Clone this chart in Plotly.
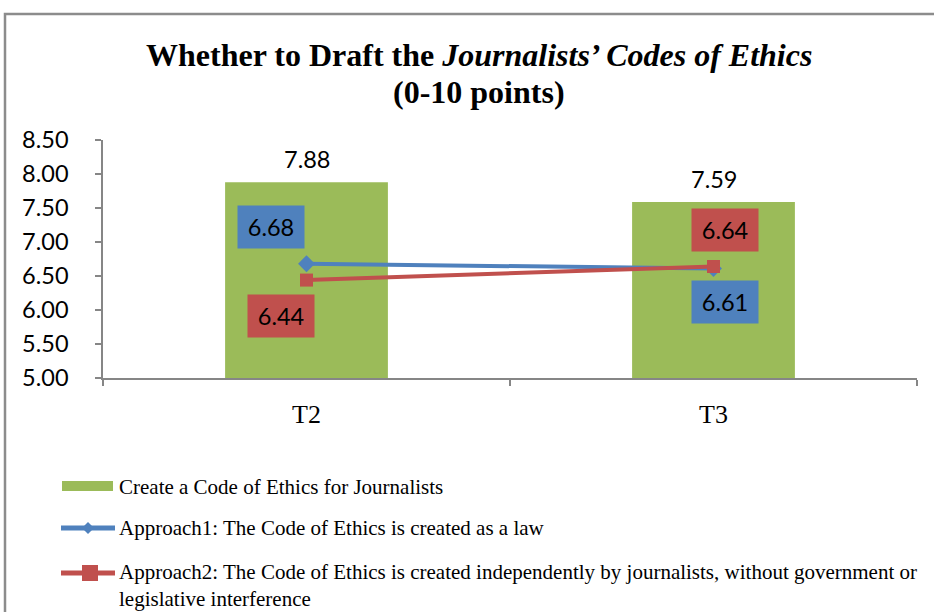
import plotly.graph_objects as go

# ---- data ----
categories = ["T2", "T3"]
create_code = [7.88, 7.59]
approach1 = [6.68, 6.61]
approach2 = [6.44, 6.64]
y_ticks = [5.00, 5.50, 6.00, 6.50, 7.00, 7.50, 8.00, 8.50]

series_names = [
    "Create a Code of Ethics for Journalists",
    "Approach1: The Code of Ethics is created as a law",
    "Approach2: The Code of Ethics is created independently by journalists, without government or<br>legislative interference",
]
title_lines = [
    "<b>Whether to Draft the <i>Journalists’ Codes of Ethics</i></b>",
    "<b>(0-10 points)</b>",
]

GREEN = "#9BBB59"
BLUE = "#4F81BD"
RED = "#C0504D"
AXIS = "#868686"
SERIF = "Liberation Serif, Times New Roman, serif"
SANS = "Lato, Carlito, Calibri, sans-serif"

W, H = 934, 612
ML, MR, MT, MB = 103, 17, 140, 234
PW, PH = W - ML - MR, H - MT - MB


def px(x):
    return (x - ML) / PW


def py(y):
    return (H - MB - y) / PH


fig = go.Figure()

fig.add_trace(go.Bar(
    x=categories, y=create_code, name=series_names[0],
    marker=dict(color=GREEN, line=dict(width=0)),
    width=0.4, showlegend=False,
))
fig.add_trace(go.Scatter(
    x=categories, y=approach1, name=series_names[1], mode="lines+markers",
    line=dict(color=BLUE, width=4),
    marker=dict(symbol="diamond", size=13, color=BLUE),
    showlegend=False,
))
fig.add_trace(go.Scatter(
    x=categories, y=approach2, name=series_names[2], mode="lines+markers",
    line=dict(color=RED, width=4),
    marker=dict(symbol="square", size=13, color=RED),
    showlegend=False,
))

annotations = []

# value labels above the bars
for c, v in zip(categories, create_code):
    annotations.append(dict(
        x=c, y=v, xref="x", yref="y", text=f"{v:.2f}", showarrow=False,
        yanchor="bottom", yshift=7, font=dict(family=SANS, size=23.5, color="#000"),
    ))

# boxed value labels for the two line series
box_offsets_1 = [(-36, 37), (11, -33)]
box_offsets_2 = [(-26, -36), (11, 36)]
for vals, color, offs in ((approach1, BLUE, box_offsets_1), (approach2, RED, box_offsets_2)):
    for c, v, (dx, dy) in zip(categories, vals, offs):
        annotations.append(dict(
            x=c, y=v, xref="x", yref="y", text=f"{v:.2f}", showarrow=False,
            xshift=dx, yshift=dy, width=64, height=40, bgcolor=color,
            font=dict(family=SANS, size=23.5, color="#000"),
        ))

# chart title, two lines
for y, line in zip((55, 92), title_lines):
    annotations.append(dict(
        x=px(479), y=py(y), xref="paper", yref="paper", showarrow=False,
        text=line, font=dict(family=SERIF, size=32, color="#000"),
        xanchor="center", yanchor="middle",
    ))

# legend text
legend_rows = [(487, series_names[0]), (528, series_names[1]), (585, series_names[2])]
for y, name in legend_rows:
    annotations.append(dict(
        x=px(117), y=py(y), xref="paper", yref="paper", showarrow=False,
        text=name, align="left", xanchor="left", yanchor="middle",
        font=dict(family=SERIF, size=21, color="#000"),
    ))

shapes = [
    # outer chart frame
    dict(type="rect", xref="paper", yref="paper", x0=px(5), x1=px(1000), y0=py(700), y1=py(14),
         line=dict(color="#8C8C8C", width=2.5), fillcolor="rgba(0,0,0,0)", layer="below"),
    # legend glyphs
    dict(type="rect", xref="paper", yref="paper", x0=px(62), x1=px(113), y0=py(491), y1=py(481),
         line=dict(width=0), fillcolor=GREEN),
    dict(type="line", xref="paper", yref="paper", x0=px(61), x1=px(115), y0=py(528), y1=py(528),
         line=dict(color=BLUE, width=5)),
    dict(type="path", xref="paper", yref="paper",
         path=f"M {px(88)} {py(522)} L {px(94)} {py(528)} L {px(88)} {py(534)} L {px(82)} {py(528)} Z",
         line=dict(width=0), fillcolor=BLUE),
    dict(type="line", xref="paper", yref="paper", x0=px(61), x1=px(115), y0=py(573), y1=py(573),
         line=dict(color=RED, width=5)),
    dict(type="rect", xref="paper", yref="paper", x0=px(82), x1=px(98), y0=py(581), y1=py(565),
         line=dict(width=0), fillcolor=RED),
]

fig.update_layout(
    width=W, height=H,
    margin=dict(l=ML, r=MR, t=MT, b=MB, pad=0),
    paper_bgcolor="white", plot_bgcolor="white",
    showlegend=False,
    annotations=annotations, shapes=shapes,
    xaxis=dict(
        type="category", range=[-0.5, 1.5], showgrid=False, zeroline=False,
        showline=True, linecolor=AXIS, linewidth=1.5,
        ticks="outside", ticklen=6, tickcolor=AXIS, tickwidth=1.5, tickson="boundaries",
        tickfont=dict(family=SERIF, size=26, color="#000"), ticklabelstandoff=12,
    ),
    yaxis=dict(
        range=[5, 8.5], tickvals=y_ticks, tickformat=".2f", showgrid=False, zeroline=False,
        showline=True, linecolor=AXIS, linewidth=1.5,
        ticks="outside", ticklen=6, tickcolor=AXIS, tickwidth=1.5,
        tickfont=dict(family=SANS, size=23.5, color="#000"), ticklabelstandoff=22,
    ),
)

fig.write_html("out.html")
